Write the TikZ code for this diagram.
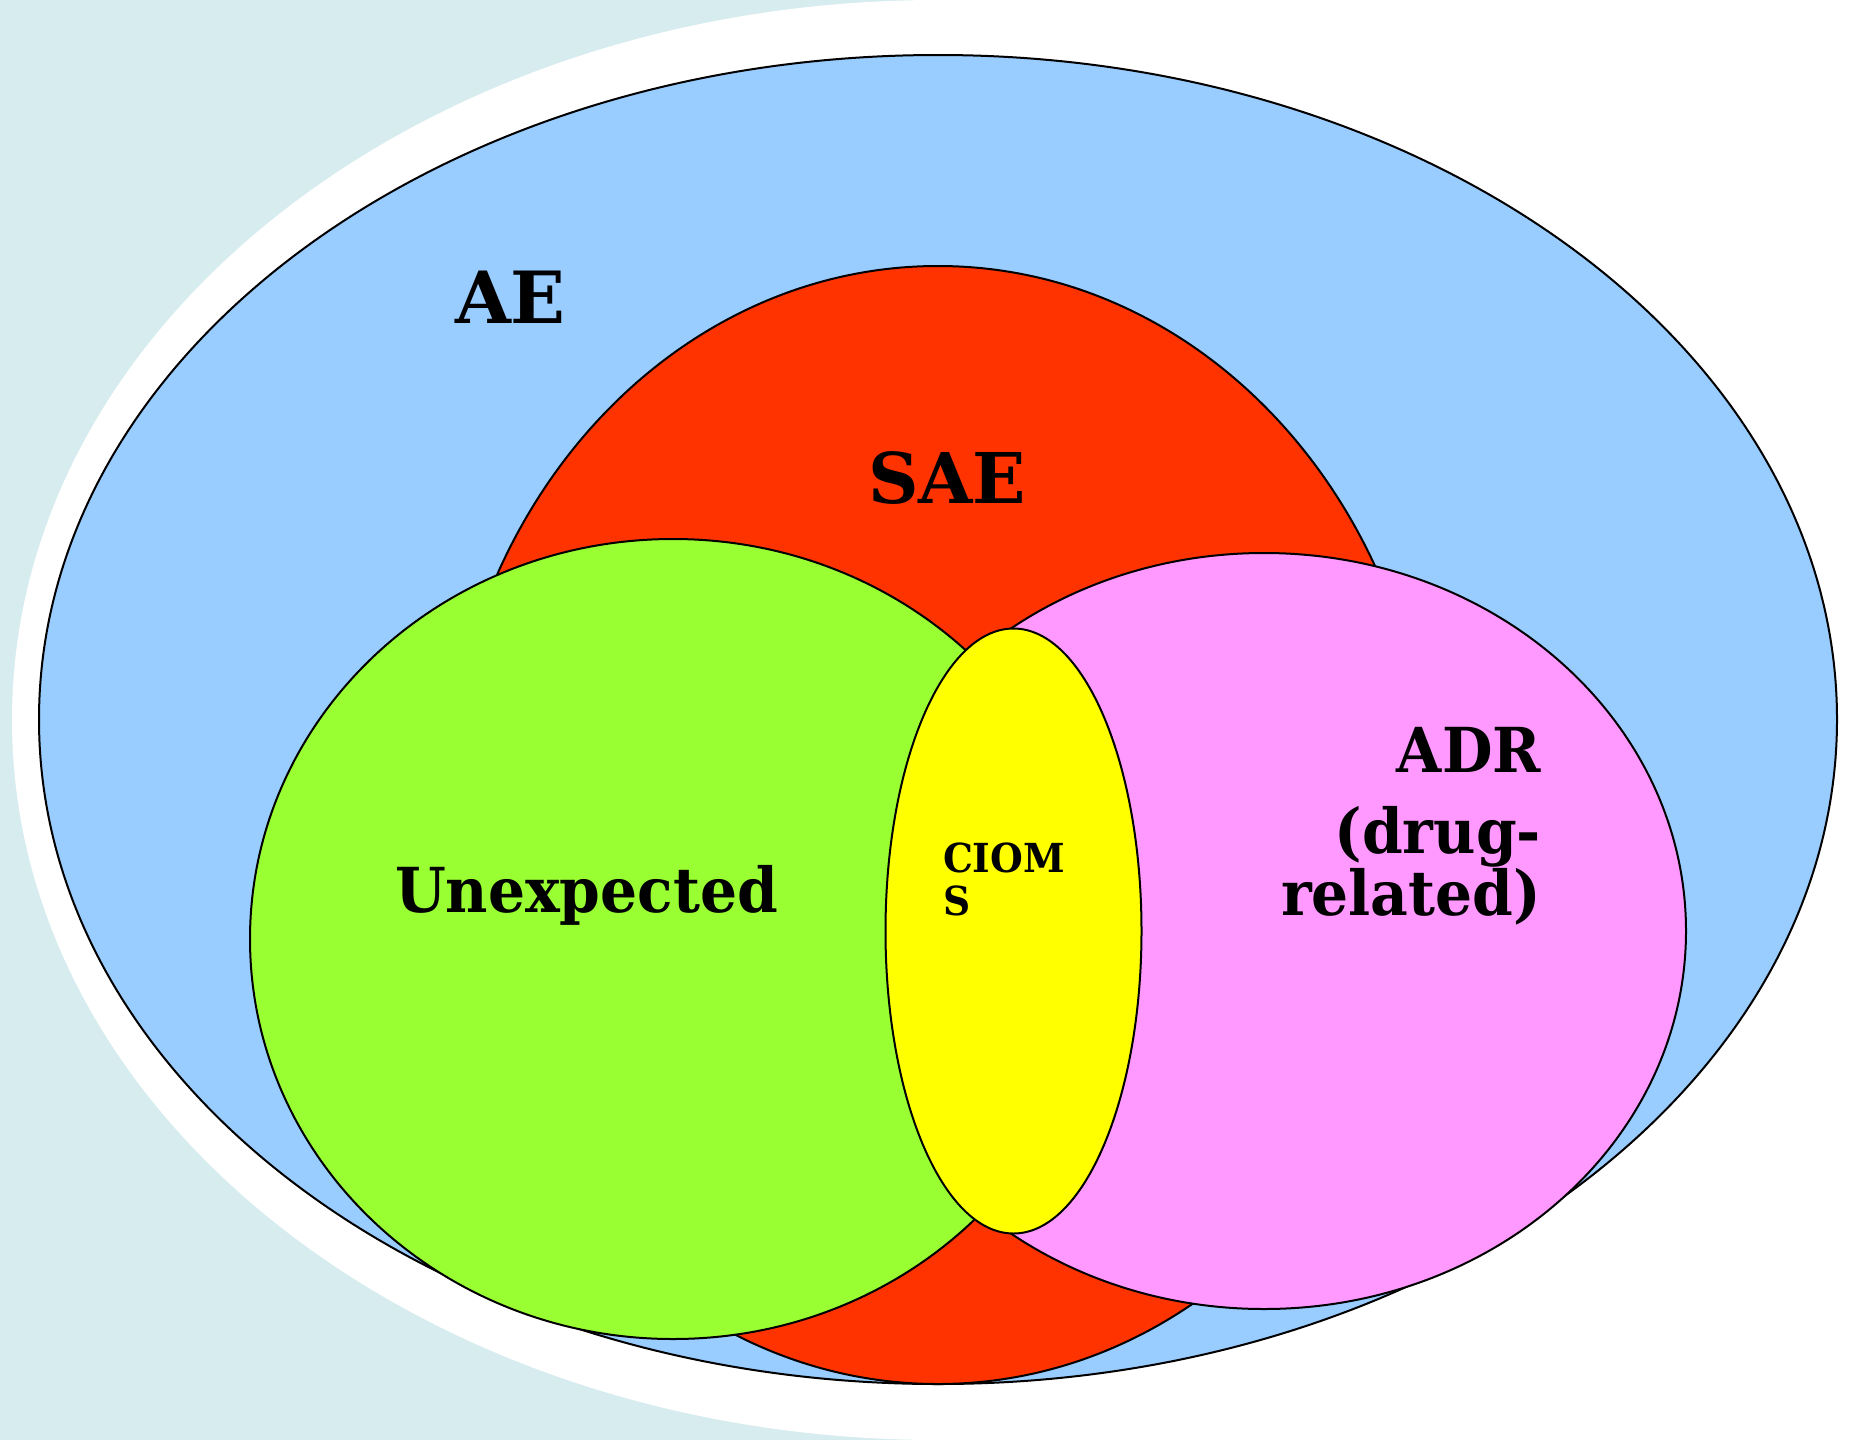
\documentclass[tikz,border=0pt]{standalone}
\usepackage{fontspec}
\setmainfont{DejaVu Serif}[FakeStretch=0.94]
\newfontfamily\widefont{DejaVu Serif}
\definecolor{bgcyan}{HTML}{D7ECEF}
\definecolor{aeblue}{HTML}{99CCFF}
\definecolor{saered}{HTML}{FF3300}
\definecolor{unxgreen}{HTML}{99FF33}
\definecolor{adrpink}{HTML}{FF99FF}
\definecolor{ciomsyellow}{HTML}{FFFF00}
\begin{document}
\begin{tikzpicture}[x=1pt,y=-1pt,
  setshape/.style={draw=black,line width=2pt},
  lbl/.style={inner sep=0pt,outer sep=0pt,font=\bfseries}]
\useasboundingbox (0,0) rectangle (1849,1440);
% background
\fill[bgcyan] (0,0) rectangle (1849,1440);
\fill[white] (938,0) rectangle (1849,1440);
\fill[white] (938,720) ellipse [x radius=926, y radius=720];
% sets
\path[setshape,fill=aeblue] (938,719.5) ellipse [x radius=899, y radius=664.5];
\path[setshape,fill=saered] (938,825) ellipse [x radius=493, y radius=559];
\path[setshape,fill=adrpink] (1264,931) ellipse [x radius=422, y radius=378];
\path[setshape,fill=unxgreen] (673,939) ellipse [x radius=423, y radius=400];
\path[setshape,fill=ciomsyellow] (1013.5,931) ellipse [x radius=128, y radius=302.5];
% labels
\node[lbl,anchor=base west,font=\widefont\bfseries\fontsize{72}{86}\selectfont] (ae) at (455,323) {AE};
\node[lbl,anchor=base west,font=\widefont\bfseries\fontsize{70}{84}\selectfont] (sae) at (868,503) {SAE};
\node[lbl,anchor=base west,font=\bfseries\fontsize{62}{74}\selectfont] (unx) at (395,912) {Unexpected};
\node[lbl,anchor=base west,font=\bfseries\fontsize{40}{43}\selectfont] (ciom) at (943,872) {CIOM};
\node[lbl,anchor=base west,font=\bfseries\fontsize{40}{43}\selectfont] (cioms) at (943,915) {S};
\node[lbl,anchor=base east,font=\bfseries\fontsize{62}{74}\selectfont] (adr1) at (1541,772) {ADR};
\node[lbl,anchor=base east,font=\bfseries\fontsize{62}{74}\selectfont] (adr2) at (1541,853) {(drug-};
\node[lbl,anchor=base east,font=\bfseries\fontsize{62}{74}\selectfont] (adr3) at (1541,915) {related)};
\end{tikzpicture}
\end{document}
